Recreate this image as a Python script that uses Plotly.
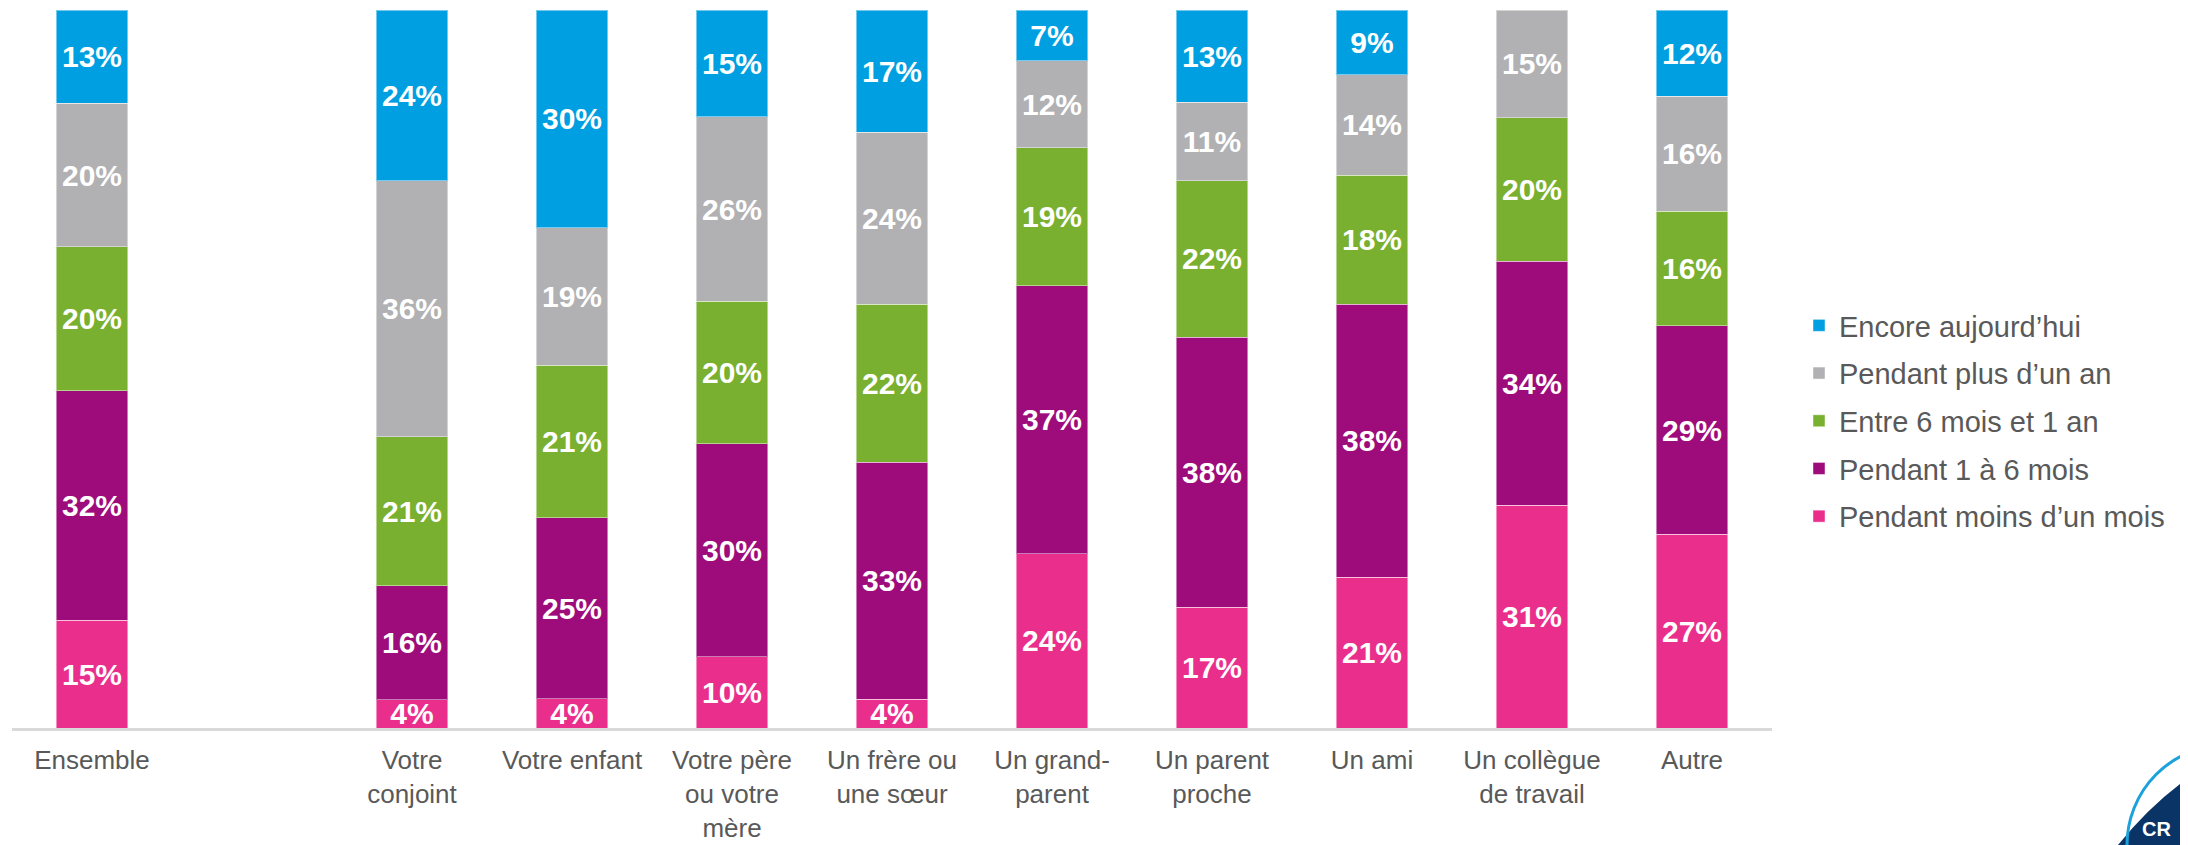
import plotly.graph_objects as go

# ---- data ----
categories = ["Ensemble", "_blank", "Votre conjoint", "Votre enfant", "Votre père ou votre mère",
              "Un frère ou une sœur", "Un grand-parent", "Un parent proche", "Un ami",
              "Un collègue de travail", "Autre"]
tick_labels = ["Ensemble", "", "Votre<br>conjoint", "Votre enfant", "Votre père<br>ou votre<br>mère",
               "Un frère ou<br>une sœur", "Un grand-<br>parent", "Un parent<br>proche", "Un ami",
               "Un collègue<br>de travail", "Autre"]

moins_un_mois = [15, None, 4, 4, 10, 4, 24, 17, 21, 31, 27]
un_a_six_mois = [32, None, 16, 25, 30, 33, 37, 38, 38, 34, 29]
six_mois_un_an = [20, None, 21, 21, 20, 22, 19, 22, 18, 20, 16]
plus_un_an = [20, None, 36, 19, 26, 24, 12, 11, 14, 15, 16]
encore = [13, None, 24, 30, 15, 17, 7, 13, 9, None, 12]

series = [
    ("Pendant moins d’un mois", moins_un_mois, "#EA2E8C"),
    ("Pendant 1 à 6 mois", un_a_six_mois, "#9E0B7A"),
    ("Entre 6 mois et 1 an", six_mois_un_an, "#7AB02F"),
    ("Pendant plus d’un an", plus_un_an, "#B1B1B3"),
    ("Encore aujourd’hui", encore, "#009FE1"),
]

FONT = "Liberation Sans, Arial, sans-serif"

fig = go.Figure()
n = len(series)
for i, (name, vals, color) in enumerate(series):
    fig.add_trace(go.Bar(
        x=categories, y=vals, name=name,
        marker=dict(color=color, line=dict(color="rgba(255,255,255,0.45)", width=1)),
        text=[f"{v}%" if v is not None else "" for v in vals],
        textposition="inside", insidetextanchor="middle", constraintext="none",
        textfont=dict(family=FONT, size=30, color="white", weight="bold"),
        legendgroup=f"g{i}", legendrank=n - i, hoverinfo="skip",
    ))

# The page body has an 8px margin, so the figure is drawn 8px in from the top-left.
OFF = 8
W, H = 2188 - OFF, 845 - OFF
ML, MR, MT, MB = 4, 416, 2, 117
pw, ph = W - ML - MR, H - MT - MB

def px(x):  # screen x -> paper x
    return (x - OFF - ML) / pw

def py(y):  # screen y -> paper y
    return (H - MB - (y - OFF)) / ph

fig.update_layout(
    width=W, height=H,
    margin=dict(l=ML, r=MR, t=MT, b=MB, pad=0, autoexpand=False),
    barmode="stack", barnorm="percent", bargap=0.556,
    plot_bgcolor="white", paper_bgcolor="white",
    font=dict(family=FONT, color="#595959"),
    showlegend=True,
    legend=dict(
        x=px(1799), xanchor="left", y=py(421), yanchor="middle",
        traceorder="grouped", tracegroupgap=7,
        font=dict(family=FONT, size=29, color="#595959"),
        bgcolor="rgba(0,0,0,0)",
    ),
    xaxis=dict(
        type="category", categoryorder="array", categoryarray=categories,
        tickmode="array", tickvals=categories, ticktext=tick_labels,
        range=[-0.5, len(categories) - 0.5],
        showline=True, linecolor="#D9D9D9", linewidth=3,
        showgrid=False, zeroline=False, ticks="",
        ticklabelstandoff=7, automargin=False,
        tickfont=dict(family=FONT, size=26, color="#595959"),
        fixedrange=True,
    ),
    yaxis=dict(range=[0, 100], visible=False, fixedrange=True, automargin=False),
    shapes=[
        dict(type="path", xref="paper", yref="paper",
             path=f"M {px(2118)},{py(845)} Q {px(2150)},{py(805)} {px(2188)},{py(778)} "
                  f"L {px(2188)},{py(845)} Z",
             fillcolor="#0B3466", line=dict(width=0), layer="above"),
        dict(type="circle", xref="paper", yref="paper",
             x0=px(2127), x1=px(2327), y0=py(945), y1=py(745),
             line=dict(color="#1BA1DB", width=3), fillcolor="rgba(0,0,0,0)", layer="above"),
    ],
    annotations=[
        dict(text="CR", xref="paper", yref="paper", x=px(2140), y=py(842),
             xanchor="left", yanchor="bottom", showarrow=False,
             font=dict(family=FONT, size=20, color="white", weight="bold")),
    ],
)

fig.write_html("out.html")
